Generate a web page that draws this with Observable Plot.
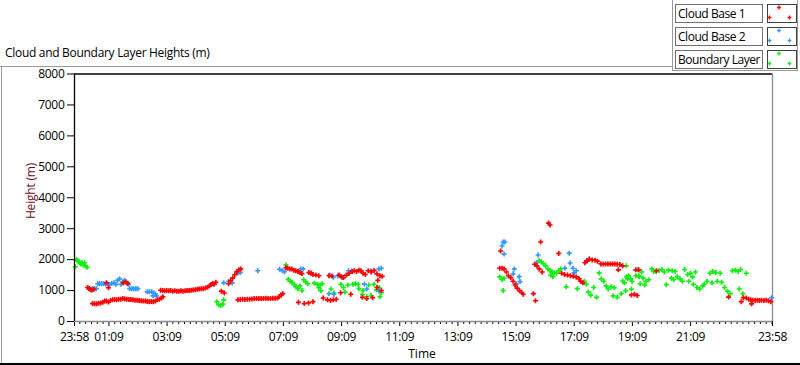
<!DOCTYPE html>
<html><head><meta charset="utf-8">
<script src="https://cdn.jsdelivr.net/npm/d3@7"></script>
<script src="https://cdn.jsdelivr.net/npm/@observablehq/plot@0.6"></script>
<style>
body{margin:0;background:#fff;font-family:"Open Sans","Noto Sans",sans-serif;}
#wrap{position:relative;width:800px;height:365px;overflow:hidden;background:#fff;}
.abs{position:absolute;}
#wrap svg.plotsvg{position:absolute;left:0;top:0;}
</style></head><body><div id="wrap"></div>
<script>
// ---------- data (hours after 23:58, heights in metres) ----------
const seriesNames = ["Cloud Base 1", "Cloud Base 2", "Boundary Layer"];
const seriesColors = ["#ff0000", "#3399ff", "#11ee11"];

const cb1Hours = [0.45,0.50,0.55,0.60,0.66,
 0.62,0.69,0.76,0.83,0.90,0.97,1.04,1.10,1.17,1.24,1.31,1.38,1.45,1.52,1.59,1.66,1.73,1.80,1.87,1.94,2.01,2.08,2.15,2.22,2.29,2.36,2.43,2.50,2.57,2.64,2.71,2.78,2.85,2.92,2.99,3.04,
 1.10,1.17,1.68,1.76,1.83,
 2.96,3.03,3.10,3.17,3.24,3.31,3.38,3.45,3.52,3.59,3.66,3.73,3.80,3.87,3.94,4.01,4.08,4.15,4.22,4.29,4.36,4.43,4.50,4.57,4.64,4.70,4.76,4.80,4.86,
 5.05,5.15,5.30,5.37,5.44,5.51,5.58,5.65,5.72,
 5.62,5.70,5.78,5.86,5.94,6.02,6.10,6.18,6.26,6.34,6.42,6.50,6.58,6.66,6.74,6.82,6.90,6.98,7.04,7.10,7.16,
 7.27,7.33,7.40,7.47,7.54,7.61,7.68,7.75,7.82,8.06,8.13,8.20,8.30,8.40,8.75,8.85,9.10,9.18,9.25,9.35,9.45,9.55,9.62,9.70,9.78,9.85,9.92,10.00,10.10,10.20,10.30,10.40,10.50,10.58,
 7.70,7.90,8.05,8.20,8.55,8.70,8.80,8.90,9.00,9.15,9.50,9.90,10.05,10.25,10.43,10.40,10.55,
 14.62,14.65,14.70,14.77,14.85,14.92,15.00,15.08,15.15,15.22,15.30,15.38,15.43,15.78,15.85,16.03,16.30,16.35,15.82,15.90,15.98,16.08,16.65,
 16.75,16.85,16.95,17.05,17.15,17.25,17.35,17.40,17.48,17.55,17.62,17.70,17.80,17.90,17.98,
 18.10,18.18,18.26,18.34,18.42,18.50,18.58,18.66,18.75,18.85,18.70,19.15,19.25,19.35,19.30,19.40,20.01,
 22.49,22.93,23.00,23.10,23.18,23.25,23.32,23.40,23.48,23.55,23.62,23.70,23.78,23.86,23.94,23.28];
const cb1Heights = [1100,1070,1030,1020,1040,
 580,570,570,590,600,620,660,660,630,680,700,710,700,720,720,740,730,720,710,710,700,690,690,680,670,660,660,650,640,650,640,660,700,720,760,800,
 1250,1090,1250,1280,1230,
 1010,1000,990,1000,990,1000,980,990,980,980,990,980,990,1000,1000,1010,1020,1030,1040,1050,1060,1060,1080,1110,1150,1200,1230,1200,1270,
 980,920,1220,1320,1410,1510,1610,1670,1700,
 700,710,720,710,720,720,730,740,740,740,740,740,750,740,740,750,750,760,800,860,900,
 1740,1720,1700,1700,1660,1640,1620,1580,1550,1580,1560,1520,1500,1480,1480,1470,1500,1450,1420,1500,1560,1620,1640,1620,1660,1640,1560,1520,1640,1600,1650,1540,1480,1460,
 620,580,600,640,760,700,680,700,720,930,880,780,740,770,1330,1100,1000,
 1720,2280,1720,1700,1600,1480,1420,1300,1180,1080,1000,930,880,900,670,2570,3180,3120,1850,1800,1700,1600,2200,
 1560,1520,1500,1480,1460,1440,1380,1300,1250,1900,1960,2020,1990,1980,1950,
 1860,1860,1860,1860,1860,1860,1860,1850,1840,1800,1670,860,880,840,1670,1670,1640,
 790,640,770,760,720,700,690,680,690,680,690,680,690,670,640,570];

const cb2Hours = [0.62,0.68,0.75,0.80,0.86,0.93,1.00,1.07,1.14,1.21,1.28,1.36,1.42,1.48,1.55,1.60,1.66,1.72,1.80,1.86,1.90,1.97,2.04,2.11,2.18,2.50,2.57,2.65,2.70,2.72,2.78,2.82,
 5.13,5.30,5.42,5.62,5.70,6.30,7.05,7.15,7.22,7.78,7.86,8.15,8.78,8.90,9.05,9.20,9.42,9.52,10.19,10.47,10.55,8.75,8.92,9.97,10.05,10.47,
 14.74,14.80,14.70,14.77,15.12,15.08,15.29,15.32,15.19,15.94,15.88,17.01,17.04,16.86,17.14,17.18,17.25,17.60,17.70,19.36,23.97];
const cb2Heights = [1060,1060,1060,1220,1230,1220,1230,1210,1220,1200,1230,1250,1200,1330,1380,1200,1280,1330,1250,1200,1060,1060,1060,1060,1060,960,960,960,830,930,890,830,
 1250,1300,1250,1570,1580,1640,1690,1640,1610,1700,1700,1570,1500,1430,1480,1420,1640,1630,1640,1700,1720,900,880,1210,1050,990,
 2570,2570,2440,2180,1700,1540,1450,1290,1220,2150,1900,2210,1890,1720,1720,1570,1640,1960,2020,1670,770];

const blHours = [0.03,0.06,0.10,0.14,0.18,0.22,0.26,0.30,0.34,0.38,0.43,
 4.89,4.96,5.03,5.10,5.13,
 7.27,7.35,7.42,7.48,7.55,7.62,7.68,7.75,7.82,7.88,7.95,8.02,8.25,8.35,8.45,8.52,8.40,8.47,8.82,8.92,9.16,9.25,9.30,9.40,9.57,9.65,9.75,9.78,9.92,10.12,10.30,10.38,10.47,10.55,9.90,10.05,10.20,10.50,
 14.62,14.70,14.77,14.74,
 15.98,16.05,16.12,16.20,16.28,16.35,16.42,16.50,16.58,16.65,16.72,16.38,16.45,16.91,17.29,
 17.53,17.60,17.67,17.75,17.85,17.95,
 18.04,18.11,18.20,18.28,18.35,18.45,18.56,18.52,18.66,18.85,18.98,19.02,18.95,19.30,19.45,19.42,
 18.97,18.91,18.80,19.05,19.12,19.15,19.17,
 19.40,19.50,19.55,19.65,19.75,19.60,19.85,19.92,20.00,20.10,20.20,20.28,20.35,
 20.42,20.55,20.65,20.52,20.60,20.72,20.82,20.90,20.98,21.08,21.18,21.25,21.35,
 21.12,21.28,21.40,21.50,21.60,21.65,21.85,21.95,22.05,22.20,21.75,21.92,22.10,22.25,
 22.35,22.45,22.55,22.62,22.72,22.82,22.90,22.86,22.98,23.10];
const blHeights = [1770,2000,1980,1930,1900,1860,1900,1830,1900,1800,1750,
 640,540,520,560,700,
 1830,1360,1300,1270,1190,1120,1060,1150,1000,1350,1280,1220,1240,1200,1180,1220,1090,990,1050,920,1200,1100,950,1180,1200,1220,1200,1060,1000,1180,1200,1020,1100,930,870,800,840,800,
 1440,1360,1400,1000,
 1960,1930,1870,1800,1700,1650,1600,1580,1560,1640,1700,1500,1450,1120,1060,
 1300,1200,950,850,1100,780,
 1570,1380,1300,1150,1050,1120,1090,830,780,1310,1450,1380,1000,1480,1220,1450,
 1800,1250,900,1480,1380,1050,1300,
 1480,1600,1400,1300,1350,1180,1700,1620,1620,1650,1680,1600,1190,
 1660,1640,1620,1400,1350,1450,1380,1300,1680,1520,1560,1440,1600,
 1300,1200,1100,1050,1150,1200,1560,1620,1580,1560,1300,1250,1300,1270,
 1100,980,900,1640,1660,1620,1680,1050,900,1560];

// axis ticks
const yTicks = [0,1000,2000,3000,4000,5000,6000,7000,8000];
const tickLabels = ["23:58","01:09","03:09","05:09","07:09","09:09","11:09","13:09","15:09","17:09","19:09","21:09","23:58"];
const tickMinutes = [0,71,191,311,431,551,671,791,911,1031,1151,1271,1440];
// ---------------------------------------------------------------

const majorHours = tickMinutes.map(m => m / 60);
const labelByHour = new Map(majorHours.map((h, i) => [h, tickLabels[i]]));
const minorHours = [];
for (let m = 11; m < 1440; m += 12) if (!tickMinutes.includes(m)) minorHours.push(m / 60);

const toRows = (hs, ms) => hs.map((h, i) => ({h, m: ms[i]}));
const cb1 = toRows(cb1Hours, cb1Heights);
const cb2 = toRows(cb2Hours, cb2Heights);
const bl = toRows(blHours, blHeights);

const font = '"Open Sans","Noto Sans",sans-serif';
const plot = Plot.plot({
  width: 800, height: 365,
  marginLeft: 74, marginRight: 28, marginTop: 73.5, marginBottom: 44,
  x: {domain: [0, 24]},
  y: {domain: [0, 8000]},
  style: {fontFamily: font, fontSize: "12px", background: "transparent", color: "#000", overflow: "visible", letterSpacing: "-0.3px"},
  marks: [
    Plot.axisY({ticks: yTicks, tickSize: 7, tickPadding: 3, label: null, tickFormat: d => String(d)}),
    Plot.axisX({ticks: minorHours, tickSize: 3, tickFormat: () => "", label: null}),
    Plot.axisX({ticks: majorHours, tickSize: 5, tickPadding: 6, tickFormat: d => labelByHour.get(d), label: null}),
    Plot.ruleY([0], {stroke: "#8c8c8c", strokeWidth: 1.3}),
    Plot.ruleX([24], {stroke: "#8c8c8c", strokeWidth: 1.3}),
    Plot.dot(bl, {x: "h", y: "m", symbol: "cross", r: 2.1, fill: seriesColors[2]}),
    Plot.dot(cb2, {x: "h", y: "m", symbol: "cross", r: 2.1, fill: seriesColors[1]}),
    Plot.dot(cb1, {x: "h", y: "m", symbol: "cross", r: 2.1, fill: seriesColors[0]}),
    Plot.ruleY([8000], {stroke: "#000", strokeWidth: 1.3}),
    Plot.ruleX([0], {stroke: "#000", strokeWidth: 1.3})
  ]
});
plot.classList.add("plotsvg");
const wrap = document.getElementById("wrap");
wrap.appendChild(plot);

function box(css, html) {
  const d = document.createElement("div");
  d.className = "abs";
  d.style.cssText = css;
  if (html) d.innerHTML = html;
  wrap.appendChild(d);
  return d;
}
// panel decorations
box("left:0;top:66px;width:673px;height:1px;background:#9a9a9a;");
box("left:1px;top:66px;width:1px;height:299px;background:#9a9a9a;");
box("left:0;top:363px;width:800px;height:2px;background:#000;");
box("left:672px;top:0;width:1px;height:71px;background:#9a9a9a;");
box("left:672px;top:70px;width:126px;height:1px;background:#9a9a9a;");
box("left:797px;top:0;width:1px;height:71px;background:#9a9a9a;");

// title and axis labels
box(`left:5px;top:45px;font:12px ${font};letter-spacing:-0.3px;color:#000;white-space:nowrap;line-height:16px;`, "Cloud and Boundary Layer Heights (m)");
box(`left:${422-40}px;top:346px;width:80px;text-align:center;font:12px ${font};color:#000;line-height:16px;`, "Time");
box(`left:${31-40}px;top:${191-8}px;width:80px;text-align:center;font:12px ${font};letter-spacing:-0.2px;color:#6e0a1e;line-height:16px;transform:rotate(-90deg);`, "Height (m)");

// legend
const rowTops = [4, 27, 50];
seriesNames.forEach((name, i) => {
  const t = rowTops[i];
  box(`left:675px;top:${t}px;border:1px solid #707070;background:#fff;font:12px ${font};letter-spacing:-0.45px;line-height:17px;padding-left:2px;box-sizing:border-box;width:88px;height:19px;white-space:nowrap;overflow:hidden;`, name);
  const sw = box(`left:767px;top:${t}px;width:30px;height:19px;border:1px solid #404040;box-sizing:border-box;background:#fff;`);
  const svg = d3.select(sw).append("svg").attr("width", 28).attr("height", 17).style("position", "absolute").style("left", 0).style("top", 0);
  [[11, 2.5], [1.5, 12.5], [21.5, 12.5]].forEach(([cx, cy]) => {
    svg.append("path").attr("d", d3.symbol(d3.symbolCross, 8)()).attr("transform", `translate(${cx},${cy})`).attr("fill", seriesColors[i]);
  });
});
</script></body></html>
